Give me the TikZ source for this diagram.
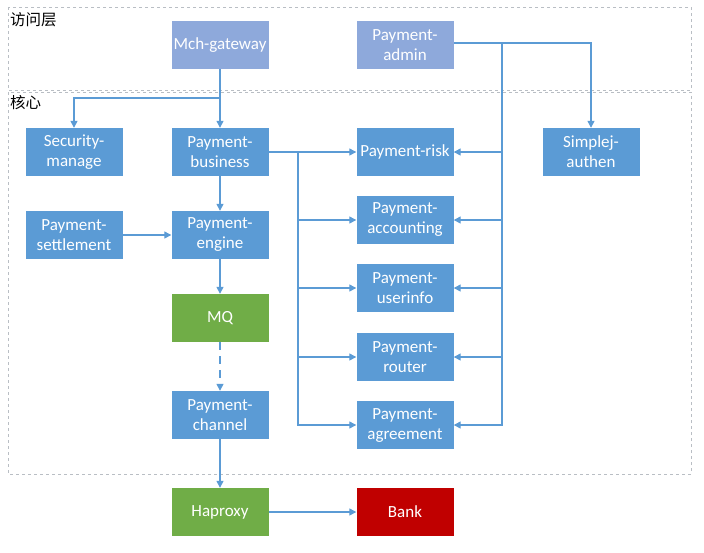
\documentclass[tikz,border=0pt]{standalone}
\usepackage{fontspec}
\setmainfont{Carlito}
\newfontfamily\cjk{Noto Sans CJK SC}
\definecolor{corebox}{RGB}{91,155,213}
\definecolor{accessbox}{RGB}{142,169,219}
\definecolor{mqgreen}{RGB}{112,173,71}
\definecolor{bankred}{RGB}{192,0,0}
\definecolor{linkblue}{RGB}{91,155,213}
\definecolor{layergray}{RGB}{185,190,196}
\usetikzlibrary{arrows.meta}

\begin{document}
\begin{tikzpicture}[x=1pt, y=-1pt,
        every node/.style={fill=corebox, text=white, minimum width=97pt, minimum height=48pt, inner sep=0pt, align=center, font=\fontsize{17}{20}\selectfont},
        layertitle/.style={fill=none, text=black, minimum width=0pt, minimum height=0pt, anchor=west, font=\cjk\fontsize{15.5}{17}\selectfont},
        link/.style={draw=linkblue, line width=1.3pt, -{Triangle[length=7pt, width=7pt]}},
        layer/.style={draw=layergray, dashed, line width=0.6pt}
      ]
        \useasboundingbox (0,0) rectangle (704,552);
        % layers
        \draw[layer] (8,7) rectangle (691,90);
        \draw[layer] (8,92) rectangle (691,474);
        \node[layertitle] (accesslabel) at (10,20) {访问层};
        \node[layertitle] (corelabel) at (10,103) {核心};

        % access layer
        \node[fill=accessbox] (gateway) at (220,45) {Mch-gateway};
        \node[fill=accessbox] (admin) at (405,45) {Payment-\\admin};

        % core layer
        \node (security) at (74,152) {Security-\\manage};
        \node (business) at (220,152) {Payment-\\business};
        \node (risk) at (405,152) {Payment-risk};
        \node (authen) at (591,152) {Simplej-\\authen};
        \node (settlement) at (74,235) {Payment-\\settlement};
        \node (engine) at (220,235) {Payment-\\engine};
        \node (accounting) at (405,220) {Payment-\\accounting};
        \node (userinfo) at (405,288) {Payment-\\userinfo};
        \node[fill=mqgreen] (mq) at (220,318) {MQ};
        \node (router) at (405,357) {Payment-\\router};
        \node (channel) at (220,415) {Payment-\\channel};
        \node (agreement) at (405,425) {Payment-\\agreement};

        % outside
        \node[fill=mqgreen] (haproxy) at (220,512) {Haproxy};
        \node[fill=bankred] (bank) at (405,512) {Bank};

        % connectors
        \coordinate (gsplit) at (220,98);
        \coordinate (bbus) at (298,152);
        \coordinate (aout) at (454,43);
        \coordinate (abus) at (502,43);
        \draw[link] (gateway) -- (business);
        \draw[link] (gsplit) -| (security.north);
        \draw[link] (aout) -| (authen.north);
        \draw[link] (abus) |- (agreement.east);
        \foreach \svc in {risk,accounting,userinfo,router}
          \draw[link] (abus |- \svc) -- (\svc.east);
        \draw[link] (business) -- (risk);
        \draw[link] (bbus) |- (agreement.west);
        \foreach \svc in {accounting,userinfo,router}
          \draw[link] (bbus |- \svc) -- (\svc.west);
        \draw[link] (business) -- (engine);
        \draw[link] (settlement) -- (engine);
        \draw[link] (engine) -- (mq);
        \draw[link, dash pattern=on 8pt off 6pt] (mq) -- (channel);
        \draw[link] (channel) -- (haproxy);
        \draw[link] (haproxy) -- (bank);
      \end{tikzpicture}
\end{document}
